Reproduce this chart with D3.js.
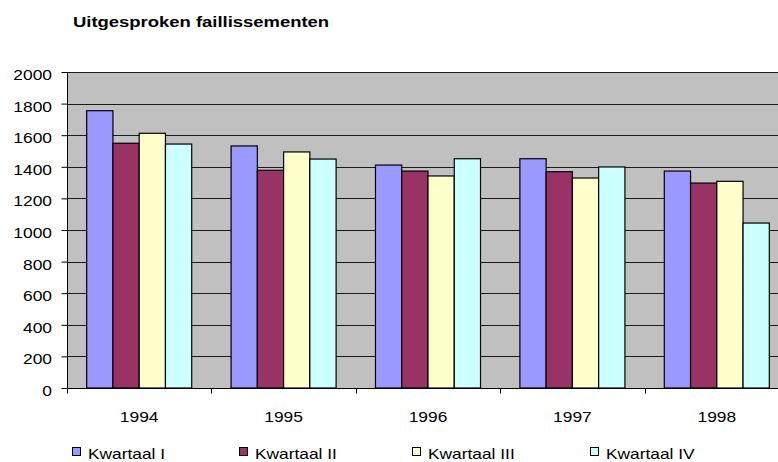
<!DOCTYPE html>
<html>
<head>
<meta charset="utf-8">
<script src="https://cdn.jsdelivr.net/npm/d3@7"></script>
<style>
  body { margin: 0; background: #fff; }
  svg { display: block; font-family: "Liberation Sans", Arial, sans-serif; }
</style>
</head>
<body>
<div class="chart"></div>
<script>
// Data
let years = ['1994', '1995', '1996', '1997', '1998'],
    quarters = ['Kwartaal I', 'Kwartaal II', 'Kwartaal III', 'Kwartaal IV'],
    kwartaal1 = [1755, 1532, 1411, 1451, 1373],
    kwartaal2 = [1549, 1378, 1373, 1369, 1297],
    kwartaal3 = [1612, 1494, 1342, 1329, 1308],
    kwartaal4 = [1544, 1449, 1451, 1399, 1044],
    yTicks = [0, 200, 400, 600, 800, 1000, 1200, 1400, 1600, 1800, 2000],
    title = 'Uitgesproken faillissementen';

let series = [kwartaal1, kwartaal2, kwartaal3, kwartaal4],
    colors = ['#9999ff', '#993366', '#ffffcc', '#ccffff'];

// Layout
let width = 778, height = 462,
    plotLeft = 67, plotTop = 72, plotBottom = 388, bandW = 144.4,
    legendX = [72, 239, 412, 590];

let svg = d3.select('.chart').append('svg')
    .attr('width', width)
    .attr('height', height);

let x0 = d3.scaleBand()
    .domain(years)
    .range([plotLeft, plotLeft + bandW * years.length])
    .paddingInner(0).paddingOuter(0);

let x1 = d3.scaleBand()
    .domain(quarters)
    .range([0, x0.bandwidth()])
    .paddingInner(0).paddingOuter(0.75);

let y = d3.scaleLinear()
    .domain([0, 2000])
    .range([plotBottom, plotTop]);

// Text drawn a bit wider, like the original renderer
function label(px, py, txt, anchor, size, weight, sx) {
    svg.append('g')
        .attr('transform', 'translate(' + px + ',' + py + ') scale(' + (sx || 1.2) + ',1)')
        .append('text')
        .attr('text-anchor', anchor)
        .attr('font-size', size)
        .attr('font-weight', weight || 'normal')
        .attr('fill', '#000')
        .text(txt);
}

// Plot background
svg.append('rect')
    .attr('x', plotLeft).attr('y', plotTop)
    .attr('width', x0.range()[1] - plotLeft)
    .attr('height', plotBottom - plotTop)
    .attr('fill', '#c0c0c0');

// Gridlines
svg.append('g')
    .selectAll('line')
    .data(yTicks.filter((d) => d > 0))
    .enter().append('line')
    .attr('x1', plotLeft).attr('x2', x0.range()[1])
    .attr('y1', (d) => Math.round(y(d)) + 0.5)
    .attr('y2', (d) => Math.round(y(d)) + 0.5)
    .attr('stroke', '#1a1a1a')
    .attr('stroke-width', 1);

// Bars
svg.append('g')
    .selectAll('g')
    .data(years)
    .enter().append('g')
    .attr('transform', (d) => 'translate(' + x0(d) + ',0)')
    .selectAll('rect')
    .data((d, i) => quarters.map((q, j) => ({ q: q, v: series[j][i], c: colors[j] })))
    .enter().append('rect')
    .attr('x', (d) => x1(d.q))
    .attr('y', (d) => y(d.v))
    .attr('width', x1.bandwidth())
    .attr('height', (d) => plotBottom - y(d.v))
    .attr('fill', (d) => d.c)
    .attr('stroke', '#000')
    .attr('stroke-width', 1.2);

// Y axis
let yAxis = svg.append('g')
    .attr('transform', 'translate(' + (plotLeft + 0.5) + ',0)')
    .call(d3.axisLeft(y).tickValues(yTicks).tickSize(6).tickFormat(''));
yAxis.select('.domain').attr('stroke', '#000').attr('d', 'M0,' + plotTop + 'V' + (plotBottom + 5));
yAxis.selectAll('.tick line').attr('stroke', '#000');
yTicks.forEach((t) => label(52, y(t) + 8, t, 'end', 14.5));

// X axis with ticks between categories
let xAxis = svg.append('g')
    .attr('transform', 'translate(0,' + (plotBottom + 0.5) + ')');
xAxis.append('line')
    .attr('x1', plotLeft).attr('x2', x0.range()[1])
    .attr('stroke', '#000');
xAxis.selectAll('.sep')
    .data(years)
    .enter().append('line')
    .attr('class', 'sep')
    .attr('x1', (d) => Math.round(x0(d)) + 0.5)
    .attr('x2', (d) => Math.round(x0(d)) + 0.5)
    .attr('y1', 0).attr('y2', 5)
    .attr('stroke', '#000');
years.forEach((d) => label(x0(d) + x0.bandwidth() / 2, 422, d, 'middle', 14.5));

// Title
label(73, 26.5, title, 'start', 15, 'bold', 1.23);

// Legend
quarters.forEach((q, i) => {
    svg.append('rect')
        .attr('x', legendX[i] + 0.5).attr('y', 447.5)
        .attr('width', 8).attr('height', 8)
        .attr('fill', colors[i])
        .attr('stroke', '#000');
    label(legendX[i] + 16, 459, q, 'start', 14, 'normal', 1.24);
});
</script>
</body>
</html>
